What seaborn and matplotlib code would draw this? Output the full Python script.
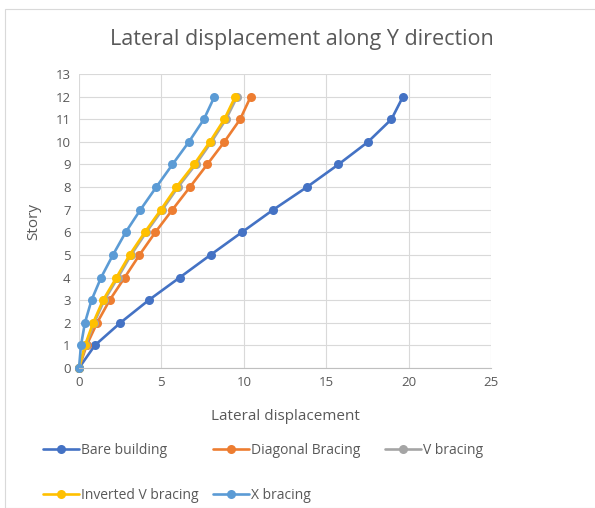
import pandas as pd
import seaborn as sns
import matplotlib.pyplot as plt
from matplotlib.patches import Rectangle

# data
story = list(range(13))
bare_building = [0, 0.96, 2.51, 4.23, 6.11, 7.98, 9.88, 11.79, 13.83, 15.74, 17.54, 18.96, 19.66]
diagonal_bracing = [0, 0.46, 1.10, 1.86, 2.77, 3.67, 4.63, 5.67, 6.73, 7.78, 8.82, 9.78, 10.42]
v_bracing = [0, 0.40, 0.92, 1.54, 2.36, 3.16, 4.08, 5.06, 6.01, 7.08, 8.04, 8.92, 9.60]
inverted_v_bracing = [0, 0.36, 0.86, 1.46, 2.27, 3.07, 3.99, 4.97, 5.91, 6.98, 7.94, 8.82, 9.48]
x_bracing = [0, 0.12, 0.36, 0.76, 1.34, 2.06, 2.83, 3.73, 4.69, 5.67, 6.67, 7.58, 8.22]

series_names = ['Bare building', 'Diagonal Bracing', 'V bracing', 'Inverted V bracing', 'X bracing']
series_values = [bare_building, diagonal_bracing, v_bracing, inverted_v_bracing, x_bracing]
colors = ['#4472C4', '#ED7D31', '#A5A5A5', '#FFC000', '#5B9BD5']

frames = [pd.DataFrame({'disp': vals, 'story': story, 'series': name})
          for name, vals in zip(series_names, series_values)]
df = pd.concat(frames, ignore_index=True)

sns.set_style("white")
plt.rcParams['font.family'] = ['Open Sans', 'DejaVu Sans']

fig = plt.figure(figsize=(5.95, 5.08), dpi=100)
ax = fig.add_axes([79 / 595, 1 - 368 / 508, 412 / 595, 294 / 508])

# chart border like the Excel chart area
fig.patches.append(Rectangle((5 / 595, 0), 1, 1 - 9 / 508, transform=fig.transFigure,
                             fill=False, edgecolor='#D9D9D9', lw=0.8))

sns.lineplot(data=df, x='disp', y='story', hue='series', hue_order=series_names,
             palette=colors, sort=False, estimator=None, marker='o', markersize=6.5,
             markeredgewidth=0, linewidth=1.9, clip_on=False, ax=ax)

ax.set_xlim(0, 25)
ax.set_ylim(0, 13)
ax.set_xticks(range(0, 26, 5))
ax.set_yticks(range(0, 14))
ax.grid(True, color='#D9D9D9', lw=0.8)
ax.set_axisbelow(True)
for side in ['top', 'right', 'left']:
    ax.spines[side].set_visible(False)
ax.spines['bottom'].set_color('#BFBFBF')
ax.tick_params(length=0, labelsize=9.5, labelcolor='#595959', pad=6)

ax.set_xlabel('Lateral displacement', fontsize=11, color='#595959', labelpad=14)
ax.set_ylabel('Story', fontsize=11, color='#595959', labelpad=10)

fig.text(0.508, 1 - 39 / 508, 'Lateral displacement along Y direction',
         ha='center', va='center', fontsize=15.5, color='#595959')

handles, labels = ax.get_legend_handles_labels()
ax.get_legend().remove()
# Excel lays legend entries on an even grid: one small legend per column
columns = [([0, 3], 30), ([1, 4], 200), ([2], 372)]
for idx, xpix in columns:
    fig.legend([handles[i] for i in idx], [labels[i] for i in idx],
               loc='upper left', bbox_to_anchor=(xpix / 595, 1 - 430 / 508),
               frameon=False, fontsize=10, labelcolor='#595959', handlelength=2.6,
               handletextpad=0.2, labelspacing=2.2)

plt.savefig('out.png', dpi=100)
